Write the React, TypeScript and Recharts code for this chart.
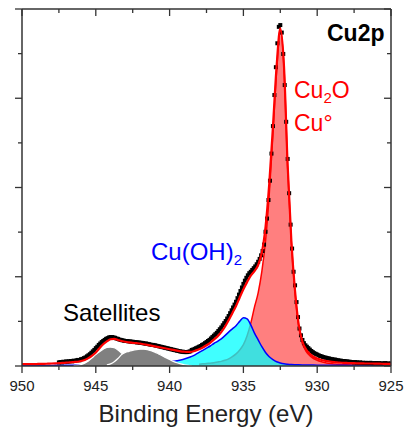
import { ComposedChart, Line, Area, Scatter, XAxis, YAxis } from "recharts";

const W = 404;
const H = 428;
const PLOT = { left: 22, top: 9, right: 391, bottom: 366 };
const AXIS = "#333";
const FONT = "'Liberation Sans', Arial, sans-serif";

// tick values
const xTicks = [950, 947.5, 945, 942.5, 940, 937.5, 935, 932.5, 930, 927.5, 925];
const xLabels = [950, 945, 940, 935, 930, 925];
const yTicks = [0, 12.5, 25, 37.5, 50, 62.5, 75, 87.5, 100];
const yMajor = [0, 25, 50, 75, 100];

// measured spectrum, 0.1 eV steps from 947.5 eV down to 925 eV
const expStart = 947.5;
const expStep = 0.1;
const expCounts = [
  1.0, 1.1, 1.0, 1.2, 1.1, 1.3, 1.2, 1.3, 1.4, 1.3,
  1.5, 1.4, 1.6, 1.7, 1.6, 1.9, 2.0, 2.2, 2.4, 2.7,
  3.0, 3.3, 3.7, 4.1, 4.5, 5.0, 5.4, 5.9, 6.3, 6.7,
  7.0, 7.3, 7.6, 7.8, 8.0, 8.1, 8.1, 8.0, 7.9, 7.7,
  7.6, 7.4, 7.3, 7.2, 7.1, 7.0, 7.0, 6.9, 6.9, 6.8,
  6.8, 6.7, 6.7, 6.6, 6.6, 6.5, 6.5, 6.4, 6.3, 6.3,
  6.2, 6.1, 6.0, 5.9, 5.9, 5.8, 5.7, 5.6, 5.5, 5.4,
  5.3, 5.2, 5.1, 5.0, 4.9, 4.8, 4.7, 4.6, 4.5, 4.4,
  4.3, 4.2, 4.1, 4.0, 4.0, 3.9, 3.9, 3.9, 4.0, 4.1,
  4.5, 4.6, 4.8, 5.0, 5.2, 5.4, 5.6, 5.9, 6.1, 6.4,
  6.7, 7.0, 7.3, 7.7, 8.1, 8.5, 8.9, 9.3, 9.8, 10.3,
  10.8, 11.4, 12.0, 12.6, 13.3, 14.0, 14.8, 15.6, 16.4, 17.2,
  18.0, 19.0, 20.0, 21.0, 22.0, 23.0, 23.9, 24.7, 25.4, 26.0,
  26.4, 26.9, 27.4, 27.9, 28.5, 29.2, 30.0, 31.0, 32.2, 34.0,
  37.6, 41.3, 46.5, 51.9, 59.5, 67.2, 75.9, 83.7, 90.4, 95.0,
  95.5, 93.4, 87.4, 78.7, 68.4, 58.0, 48.4, 39.6, 32.9, 26.4,
  22.6, 17.9, 13.7, 10.5, 8.6, 7.3, 6.4, 5.8, 5.4, 5.0,
  4.6, 4.2, 3.9, 3.6, 3.4, 3.2, 3.0, 2.8, 2.7, 2.5,
  2.4, 2.3, 2.2, 2.1, 2.0, 1.9, 1.8, 1.8, 1.7, 1.6,
  1.5, 1.5, 1.4, 1.4, 1.3, 1.3, 1.2, 1.2, 1.1, 1.1,
  1.0, 1.1, 1.0, 0.9, 1.0, 0.9, 0.9, 0.8, 0.9, 0.8,
  0.8, 0.9, 0.8, 0.7, 0.8, 0.8, 0.7, 0.8, 0.7, 0.7,
  0.7, 0.8, 0.7, 0.7, 0.6, 0.7,
];

// fit + components, 0.25 eV steps
const fitStart = 950;
const fitStep = 0.25;
const envelope = [
  0.5, 0.5, 0.5, 0.5, 0.55, 0.6, 0.6, 0.65, 0.7, 0.75,
  0.8, 0.85, 0.95, 1.0, 1.1, 1.2, 1.4, 1.7, 2.2, 2.9,
  3.8, 5.0, 6.1, 6.9, 7.5, 7.6, 7.3, 7.0, 6.8, 6.6,
  6.5, 6.4, 6.3, 6.1, 5.9, 5.7, 5.5, 5.3, 5.1, 4.9,
  4.7, 4.5, 4.3, 4.1, 4.0, 3.95, 4.0, 4.3, 4.7, 5.2,
  5.8, 6.5, 7.4, 8.3, 9.5, 11.0, 12.8, 14.8, 16.8, 19.2,
  21.5, 23.5, 25.3, 26.6, 28.3, 31.8, 39.0, 51.0, 67.0, 84.0,
  94.6, 84.0, 56.0, 35.0, 21.0, 11.5, 6.8, 4.6, 3.4, 2.6,
  2.1, 1.75, 1.5, 1.3, 1.15, 1.05, 0.95, 0.9, 0.85, 0.8,
  0.8, 0.75, 0.75, 0.7, 0.7, 0.7, 0.65, 0.65, 0.6, 0.6,
  0.6,
];

const cuohStart = 950;
const cuoh = [
  0.12, 0.12, 0.13, 0.13, 0.14, 0.15, 0.15, 0.16, 0.17, 0.18,
  0.19, 0.2, 0.21, 0.22, 0.23, 0.24, 0.26, 0.27, 0.29, 0.31,
  0.33, 0.35, 0.37, 0.39, 0.41, 0.43, 0.46, 0.48, 0.51, 0.54,
  0.57, 0.6, 0.64, 0.68, 0.72, 0.77, 0.82, 0.88, 0.95, 1.03,
  1.15, 1.3, 1.5, 1.7, 1.95, 2.3, 2.7, 3.2, 3.8, 4.4,
  5.0, 5.6, 6.3, 6.9, 7.6, 8.5, 9.5, 10.4, 11.3, 12.5,
  13.5, 13.2, 11.5, 9.2, 7.3, 5.4, 3.8, 2.6, 1.8, 1.2,
  0.85, 0.62, 0.5, 0.42, 0.37, 0.33, 0.3, 0.28, 0.26, 0.25,
  0.24, 0.23, 0.22, 0.21, 0.2, 0.2, 0.19, 0.19, 0.18, 0.18,
  0.17, 0.17, 0.16, 0.16, 0.16, 0.15, 0.15, 0.15, 0.14, 0.14,
  0.14,
];

const cu2oStart = 938;
const cu2o = [
  0.5, 0.6, 0.7, 0.8, 0.9, 1.1, 1.3, 1.6, 2.0, 2.6,
  3.4, 4.5, 6.0, 8.5, 12.0, 16.5, 20.5, 26.5, 35.0, 48.0,
  65.0, 82.5, 94.0, 83.5, 55.5, 34.5, 20.5, 11.0, 6.3, 4.1,
  2.9, 2.1, 1.6, 1.25, 1.0, 0.8, 0.65, 0.55, 0.45, 0.4,
  0.35, 0.3, 0.28, 0.25, 0.22, 0.2, 0.18, 0.16, 0.15, 0.14,
  0.13, 0.12, 0.11,
];

const sat1Start = 946.5;
const sat1 = [
  0.1, 0.2, 0.4, 0.8, 1.4, 2.3, 3.2, 4.0, 4.7, 5.2,
  5.3, 5.1, 4.5, 3.6, 2.7, 1.9, 1.3, 0.8, 0.5, 0.3,
  0.2, 0.1, 0.05,
];

const sat2Start = 944.25;
const sat2 = [
  0.3, 0.6, 1.2, 2.1, 3.2, 3.8, 4.1, 4.4, 4.6, 4.7,
  4.7, 4.6, 4.3, 3.9, 3.4, 2.9, 2.3, 1.8, 1.3, 0.9,
  0.6, 0.35, 0.2, 0.1,
];

const pick = (arr: number[], start: number, e: number) => {
  const i = Math.round((start - e) / fitStep);
  return i >= 0 && i < arr.length ? arr[i] : null;
};

const rows = envelope.map((fit, i) => {
  const e = +(fitStart - i * fitStep).toFixed(2);
  return {
    e,
    fit,
    cuoh: pick(cuoh, cuohStart, e),
    cu2o: pick(cu2o, cu2oStart, e),
    sat1: pick(sat1, sat1Start, e),
    sat2: pick(sat2, sat2Start, e),
  };
});

const points = expCounts.map((v, i) => ({ e: +(expStart - i * expStep).toFixed(2), v }));

const Square = ({ cx, cy }: any) =>
  cx == null ? null : <rect x={cx - 2} y={cy - 2} width={4} height={4} fill="#000" />;

const BottomTick = ({ x, payload }: any) => {
  const major = xLabels.includes(payload.value);
  return (
    <g>
      <line x1={x} x2={x} y1={PLOT.bottom} y2={PLOT.bottom + (major ? 7 : 4)} stroke={AXIS} strokeWidth={1.3} />
      {major && (
        <text x={x} y={391} textAnchor="middle" fontSize={15} fill="#222" fontFamily={FONT}>
          {payload.value}
        </text>
      )}
    </g>
  );
};

const TopTick = ({ x, payload }: any) => {
  const major = xLabels.includes(payload.value);
  return <line x1={x} x2={x} y1={PLOT.top} y2={PLOT.top + (major ? 7 : 4)} stroke={AXIS} strokeWidth={1.3} />;
};

const LeftTick = ({ y, payload }: any) => {
  const major = yMajor.includes(payload.value);
  return <line x1={PLOT.left - (major ? 7 : 4)} x2={PLOT.left} y1={y} y2={y} stroke={AXIS} strokeWidth={1.3} />;
};

const RightTick = ({ y, payload }: any) => {
  const major = yMajor.includes(payload.value);
  return <line x1={PLOT.right - (major ? 7 : 4)} x2={PLOT.right} y1={y} y2={y} stroke={AXIS} strokeWidth={1.3} />;
};

const label = (left: number, top: number, size: number, color: string, bold = false): any => ({
  position: "absolute",
  left,
  top,
  fontSize: size,
  lineHeight: 1,
  color,
  fontFamily: FONT,
  fontWeight: bold ? 700 : 400,
  whiteSpace: "nowrap",
});

export default function App() {
  return (
    <div style={{ position: "absolute", left: 0, top: 0, width: W, height: H, background: "#fff" }}>
      <ComposedChart
        width={W}
        height={H}
        data={rows}
        margin={{ top: PLOT.top - 1, right: W - PLOT.right - 1, bottom: H - PLOT.bottom - 1, left: PLOT.left - 1 }}
      >
        <XAxis
          xAxisId="b"
          dataKey="e"
          type="number"
          domain={[925, 950]}
          reversed
          allowDataOverflow
          ticks={xTicks}
          interval={0}
          height={1}
          tickLine={false}
          tick={<BottomTick />}
          axisLine={{ stroke: AXIS, strokeWidth: 1.5 }}
        />
        <XAxis
          xAxisId="t"
          orientation="top"
          dataKey="e"
          type="number"
          domain={[925, 950]}
          reversed
          allowDataOverflow
          ticks={xTicks}
          interval={0}
          height={1}
          tickLine={false}
          tick={<TopTick />}
          axisLine={{ stroke: AXIS, strokeWidth: 1.5 }}
        />
        <YAxis
          yAxisId="l"
          dataKey="v"
          type="number"
          domain={[0, 100]}
          allowDataOverflow
          ticks={yTicks}
          interval={0}
          width={1}
          tickLine={false}
          tick={<LeftTick />}
          axisLine={{ stroke: AXIS, strokeWidth: 1.5 }}
        />
        <YAxis
          yAxisId="r"
          orientation="right"
          type="number"
          domain={[0, 100]}
          allowDataOverflow
          ticks={yTicks}
          interval={0}
          width={1}
          tickLine={false}
          tick={<RightTick />}
          axisLine={{ stroke: AXIS, strokeWidth: 1.5 }}
        />
        <Area
          xAxisId="b"
          yAxisId="l"
          type="monotone"
          dataKey="cu2o"
          stroke="#ff0000"
          strokeWidth={1.5}
          fill="#ff0000"
          fillOpacity={0.5}
          isAnimationActive={false}
          zIndex={100}
        />
        <Area
          xAxisId="b"
          yAxisId="l"
          type="monotone"
          dataKey="cuoh"
          stroke="#0000ff"
          strokeWidth={1.5}
          fill="#00ffff"
          fillOpacity={0.75}
          isAnimationActive={false}
          zIndex={101}
        />
        <Area
          xAxisId="b"
          yAxisId="l"
          type="monotone"
          dataKey="sat1"
          stroke="#fff"
          strokeWidth={1.2}
          fill="#808080"
          fillOpacity={1}
          isAnimationActive={false}
          zIndex={102}
        />
        <Area
          xAxisId="b"
          yAxisId="l"
          type="monotone"
          dataKey="sat2"
          stroke="#fff"
          strokeWidth={1.2}
          fill="#808080"
          fillOpacity={1}
          isAnimationActive={false}
          zIndex={103}
        />
        <Scatter
          xAxisId="b"
          yAxisId="l"
          data={points}
          dataKey="v"
          shape={<Square />}
          isAnimationActive={false}
          zIndex={200}
        />
        <Line
          xAxisId="b"
          yAxisId="l"
          type="monotone"
          dataKey="fit"
          stroke="#ff0000"
          strokeWidth={2.2}
          dot={false}
          activeDot={false}
          isAnimationActive={false}
          zIndex={300}
        />
      </ComposedChart>

      <div style={label(327, 22, 23, "#000", true)}>Cu2p</div>
      <div style={label(294, 79, 23, "#ff0000")}>
        Cu<span style={{ fontSize: 15, position: "relative", top: 5 }}>2</span>O
      </div>
      <div style={label(294, 112, 23, "#ff0000")}>Cu°</div>
      <div style={label(151, 240, 24, "#0000ff")}>
        Cu(OH)<span style={{ fontSize: 15, position: "relative", top: 5 }}>2</span>
      </div>
      <div style={label(63, 301, 24, "#000")}>Satellites</div>
      <div style={{ ...label(0, 402, 24, "#222"), width: 412, textAlign: "center" }}>Binding Energy (eV)</div>
    </div>
  );
}
